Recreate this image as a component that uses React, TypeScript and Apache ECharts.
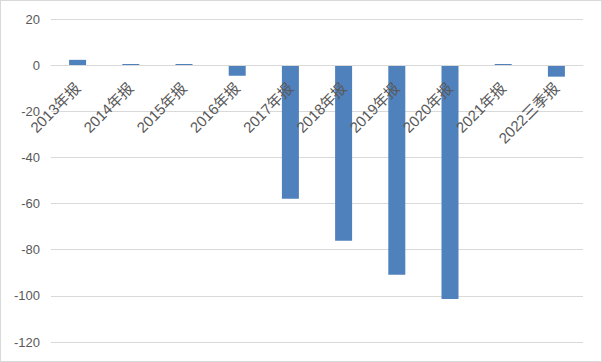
import React, { useEffect, useRef } from "react";
import * as echarts from "echarts";

const categories = [
  "2013年报",
  "2014年报",
  "2015年报",
  "2016年报",
  "2017年报",
  "2018年报",
  "2019年报",
  "2020年报",
  "2021年报",
  "2022三季报",
];
const values = [2.3, 0.5, 0.5, -4.6, -57.9, -76.1, -90.8, -101.4, 0.5, -5.0];
const yMin = -120;
const yMax = 20;
const yInterval = 20;

const GRID_TOP = 19;
const GRID_BOTTOM = 20;
const H = 362;

export default function App() {
  const ref = useRef<HTMLDivElement>(null);
  useEffect(() => {
    document.body.style.margin = "0";
    const chart = echarts.init(ref.current!, null, { renderer: "svg" });
    const font = '"Liberation Sans", "Noto Sans CJK SC", sans-serif';
    const plotH = H - GRID_TOP - GRID_BOTTOM;
    const zeroFromBottom = ((0 - yMin) / (yMax - yMin)) * plotH;
    chart.setOption({
      animation: false,
      backgroundColor: "#ffffff",
      grid: {
        left: 51,
        right: 19,
        top: GRID_TOP,
        bottom: GRID_BOTTOM,
        containLabel: false,
        outerBoundsMode: "none",
      },
      xAxis: {
        type: "category",
        data: categories,
        position: "bottom",
        offset: -zeroFromBottom,
        z: 10,
        axisLine: { onZero: false, lineStyle: { color: "#d9d9d9" } },
        axisTick: { show: false },
        axisLabel: {
          rotate: 45,
          interval: 0,
          color: "#595959",
          fontSize: 15,
          fontFamily: font,
          margin: 20,
          hideOverlap: false,
        },
      },
      yAxis: {
        type: "value",
        min: yMin,
        max: yMax,
        interval: yInterval,
        axisLine: { show: false },
        axisTick: { show: false },
        splitLine: { lineStyle: { color: "#d9d9d9" } },
        axisLabel: { color: "#595959", fontSize: 13, fontFamily: font, margin: 11 },
      },
      series: [
        {
          type: "bar",
          data: values,
          barWidth: 17,
          z: 2,
          itemStyle: { color: "#4f81bd" },
        },
      ],
    });
    return () => chart.dispose();
  }, []);
  return (
    <div style={{ width: 602, height: 362, position: "relative" }}>
      <div ref={ref} style={{ width: 602, height: 362 }} />
      <div
        style={{
          position: "absolute",
          left: 0,
          top: 0,
          width: 602,
          height: 362,
          boxSizing: "border-box",
          border: "1px solid #d9d9d9",
          pointerEvents: "none",
        }}
      />
    </div>
  );
}
